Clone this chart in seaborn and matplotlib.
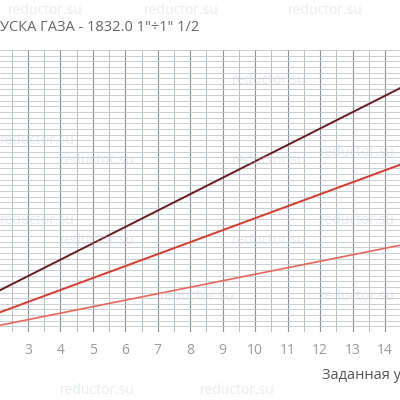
import matplotlib
matplotlib.use("Agg")
import matplotlib.pyplot as plt
import seaborn as sns
import numpy as np
import pandas as pd

x_vals = [2, 15]
line_dark = [7.0, 44.8]
line_mid = [3.2, 30.8]
line_light = [1.04, 16.0]
tick_vals = [3, 4, 5, 6, 7, 8, 9, 10, 11, 12, 13, 14]

sns.set_style("white")
plt.rcParams['font.family'] = ['Open Sans', 'DejaVu Sans']

fig = plt.figure(figsize=(4, 4), dpi=100)
ax = fig.add_axes([0, 0.17, 1, 0.705])
ax.set_facecolor('none')

for name, ys, col, lw in [("d", line_dark, "#6b1a1f", 1.4), ("m", line_mid, "#d83a2e", 1.4), ("l", line_light, "#e8675c", 1.2)]:
    df = pd.DataFrame({"x": x_vals, "y": ys})
    sns.lineplot(data=df, x="x", y="y", color=col, lw=lw, ax=ax, zorder=3)

ax.set_xlim(2.14, 14.46)
ax.set_ylim(0, 50)
ax.set_xticks(tick_vals)
ax.set_xticks(np.arange(2.5, 14.5, 0.5), minor=True)
ax.set_yticks(np.arange(0, 51, 1))
ax.grid(True, which='major', axis='x', color='#8a8f99', lw=0.8)
ax.grid(True, which='minor', axis='x', color='#b0b4bb', lw=0.6)
ax.grid(True, which='major', axis='y', color='#c2c5cb', lw=0.6)
ax.tick_params(axis='x', which='both', length=0, colors='#9a9a9a', labelsize=10, pad=8)
ax.tick_params(axis='y', which='both', length=0, labelleft=False)
ax.set_xlabel(""); ax.set_ylabel("")
for s in ax.spines.values():
    s.set_visible(False)

fig.text(0, 0.932, 'УСКА ГАЗА - 1832.0 1"÷1" 1/2', color='#666666', fontsize=10.5, va='center', ha='left')
fig.text(0.805, 0.062, 'Заданная уставка', color='#555555', fontsize=10.5, va='center', ha='left')

for (tx, ty) in [(0.02, 0.975), (0.36, 0.975), (0.72, 0.975), (0.58, 0.8), (0.15, 0.6), (0.58, 0.6), (0.0, 0.65), (0.8, 0.62),
                 (0.15, 0.4), (0.58, 0.4), (0.0, 0.45), (0.8, 0.45), (0.4, 0.26), (0.8, 0.26), (0.15, 0.025), (0.5, 0.025)]:
    fig.text(tx, ty, 'reductor.su', color='#c9cede', alpha=0.4, fontsize=10, va='center')

fig.savefig("out.png", dpi=100)
